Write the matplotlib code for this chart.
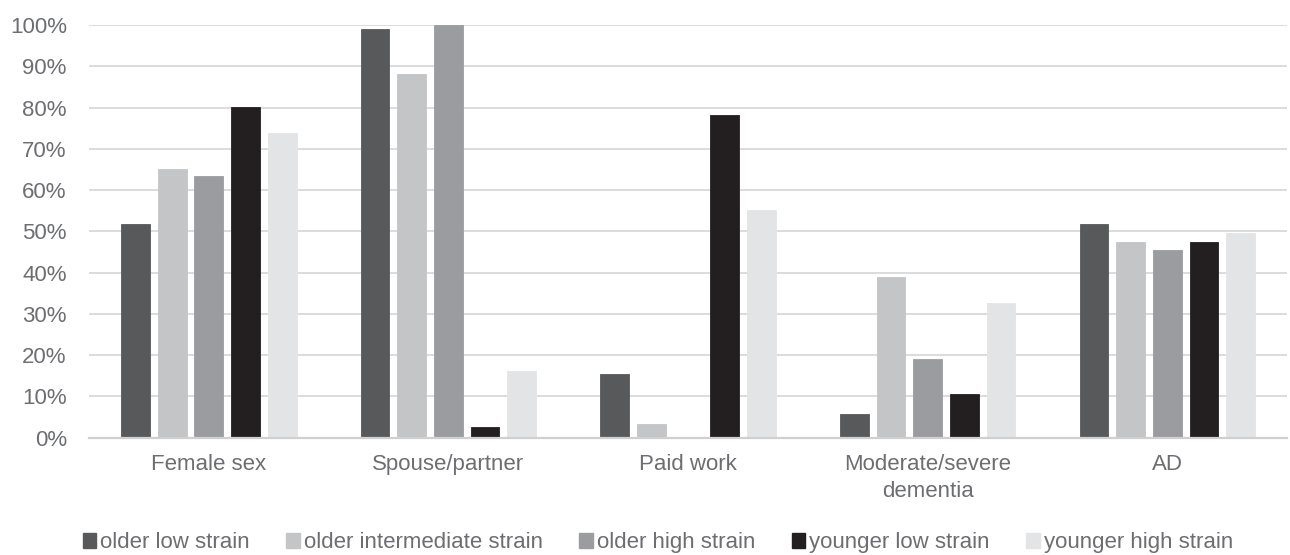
import numpy as np
from matplotlib import pyplot as plt
from matplotlib.patches import Patch
from matplotlib.ticker import PercentFormatter

plt.rcParams['font.family'] = ['Liberation Sans', 'DejaVu Sans']

categories = ["Female sex", "Spouse/partner", "Paid work", "Moderate/severe\ndementia", "AD"]
groups = ["older low strain", "older intermediate strain", "older high strain",
          "younger low strain", "younger high strain"]

older_low = [51.9, 99.0, 15.4, 5.7, 51.9]
older_intermediate = [65.1, 88.1, 3.3, 38.9, 47.3]
older_high = [63.4, 100.0, 0.0, 19.0, 45.4]
younger_low = [80.2, 2.5, 78.2, 10.5, 47.3]
younger_high = [73.9, 16.2, 55.2, 32.6, 49.5]

series = [older_low, older_intermediate, older_high, younger_low, younger_high]
colors = ["#58595b", "#c4c5c7", "#9b9c9f", "#231f20", "#e3e4e5"]

fig = plt.figure(figsize=(12.9, 5.55), dpi=100)
ax = fig.add_axes([0.069, 0.2113, 0.9287, 0.7437])

x = np.arange(len(categories))
step = 0.153
width = 0.12
for i, (vals, c) in enumerate(zip(series, colors)):
    ax.bar(x + (i - 2) * step, vals, width, color=c, edgecolor=c, linewidth=0.6,
           zorder=3, label=groups[i])

ax.set_xlim(-0.5, len(categories) - 0.5)
ax.set_ylim(0, 100)
ax.set_yticks(np.arange(0, 101, 10))
ax.yaxis.set_major_formatter(PercentFormatter(decimals=0))
ax.set_xticks(x)
ax.set_xticklabels(categories, linespacing=1.35)

ax.grid(axis='y', color='#dcdcdc', linewidth=1.4, zorder=0)
for side in ['left', 'right', 'top']:
    ax.spines[side].set_visible(False)
ax.spines['bottom'].set_color('#d0d0d0')
ax.spines['bottom'].set_linewidth(1.6)
ax.spines['bottom'].set_zorder(4)

ax.tick_params(axis='y', length=0, pad=16, labelsize=16, labelcolor='#6d6e71')
ax.tick_params(axis='x', length=0, pad=12, labelsize=16, labelcolor='#6d6e71')

handles = [Patch(facecolor=c, edgecolor=c) for c in colors]
leg = fig.legend(handles, groups, loc='center', bbox_to_anchor=(0.51, 0.022), ncol=5,
                 frameon=False, fontsize=16, handlelength=0.6, handleheight=0.6,
                 handletextpad=0.18, columnspacing=1.65, labelcolor='#6d6e71')

fig.savefig("out.png", dpi=100)
